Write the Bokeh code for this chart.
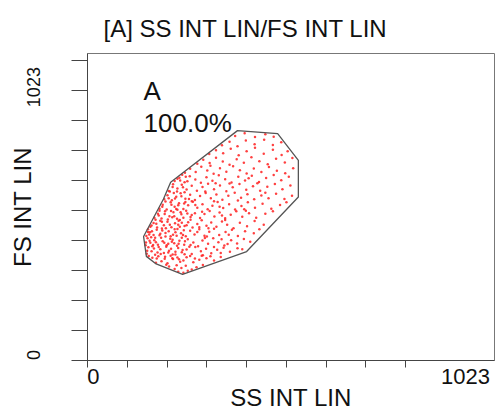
from bokeh.plotting import figure
from bokeh.models import Range1d, FixedTicker, Label, LinearAxis
from bokeh.embed import file_html
from bokeh.resources import INLINE

# ---------------- data ----------------
title_text = "[A] SS INT LIN/FS INT LIN"
x_axis_title = "SS INT LIN"
y_axis_title = "FS INT LIN"
axis_min = 0
axis_max = 1023
x_ticks = [0, 100, 200, 300, 400, 500, 600, 700, 800]
y_ticks = [0, 100, 200, 300, 400, 500, 600, 700, 800, 900, 1000]
x_tick_labels = ["0", "1023"]
x_tick_label_pos = [15, 950]
y_tick_labels = ["0", "1023"]
y_tick_label_pos = [18, 911]

gate_name = "A"
gate_percent = "100.0%"
gate_ss = [377, 478, 530, 530, 400, 239, 171, 148, 141, 191, 209]
gate_fs = [766, 756, 667, 545, 363, 287, 323, 347, 413, 538, 594]
gate_label_ss = 141
gate_name_fs = 898
gate_percent_fs = 792

ss_values = [
    228, 241, 252, 219, 236, 262, 205, 247, 274, 290, 198, 224,
    172, 186, 201, 215, 233, 249, 266, 281, 299, 318, 163, 178, 194, 209, 226, 241, 258, 287, 309, 154, 270, 335,
    149, 161, 170, 183, 192, 205, 214, 228, 237, 249, 262, 271, 285, 298, 311, 326, 342, 358, 377, 153, 167, 198, 221, 244, 256, 290, 318, 335, 389, 176, 210,
    146, 158, 168, 177, 189, 199, 208, 218, 231, 243, 252, 266, 278, 289, 303, 316, 329, 344, 361, 376, 393, 409, 151, 163, 185, 225, 259, 295, 337, 352, 212, 172, 237,
    148, 157, 166, 174, 183, 196, 204, 215, 226, 235, 247, 258, 269, 281, 294, 306, 318, 331, 347, 363, 378, 396, 418, 432, 152, 188, 221, 242, 276, 300, 355, 162, 209,
    158, 166, 175, 183, 192, 201, 211, 220, 232, 244, 253, 264, 276, 287, 299, 311, 324, 338, 351, 367, 383, 401, 420, 443, 171, 197, 228, 259, 304, 346, 237, 281,
    168, 177, 186, 195, 206, 216, 225, 236, 248, 259, 270, 283, 294, 307, 319, 332, 346, 360, 374, 389, 406, 424, 447, 466, 181, 213, 241, 288, 338, 398, 262,
    181, 189, 199, 209, 219, 230, 241, 253, 265, 276, 289, 302, 314, 327, 341, 356, 371, 387, 403, 421, 440, 462, 484, 500, 226, 271, 332, 394, 246,
    193, 201, 212, 223, 234, 246, 258, 270, 283, 297, 310, 324, 339, 354, 370, 386, 402, 419, 437, 455, 474, 495, 514, 217, 262, 318, 378, 447,
    204, 214, 225, 237, 249, 262, 275, 289, 303, 318, 333, 349, 365, 382, 399, 416, 434, 452, 471, 490, 510, 244, 296, 357, 427,
    219, 231, 244, 257, 271, 285, 299, 314, 330, 346, 362, 379, 396, 413, 431, 449, 468, 487, 506, 238, 322, 405,
    245, 258, 272, 286, 301, 317, 333, 349, 366, 383, 400, 418, 437, 456, 476, 497, 517, 309,
    276, 291, 307, 323, 340, 357, 375, 393, 412, 432, 453, 474, 496, 515,
    306, 323, 341, 360, 380, 400, 421, 443, 466, 488, 503,
    338, 357, 377, 398, 420, 444, 466, 487,
    371, 395, 421, 447, 468,
    150, 156, 160, 165, 170, 179, 181, 187, 193, 196, 203, 207, 214, 219, 224, 229, 232, 240, 245, 249,
    155, 161, 173, 179, 187, 194, 202, 210, 218, 223, 229, 234, 188, 196, 204, 211, 220, 228, 236, 243,
    251, 255, 207, 215, 226, 233, 240, 251, 226, 247, 174, 184, 195, 203, 213, 221, 230, 239, 147, 152,
]
fs_values = [
    296, 292, 299, 305, 308, 303, 313, 316, 311, 318, 319, 317,
    326, 331, 324, 338, 329, 344, 327, 336, 341, 333, 342, 347, 339, 349, 343, 333, 348, 349, 347, 348, 340, 345,
    356, 364, 352, 371, 358, 366, 353, 375, 361, 370, 355, 378, 364, 372, 357, 369, 376, 362, 374, 377, 373, 379, 362, 354, 379, 351, 378, 358, 371, 360, 372,
    384, 392, 401, 386, 397, 384, 406, 391, 399, 386, 404, 393, 381, 400, 389, 407, 394, 383, 401, 390, 405, 396, 407, 381, 409, 382, 385, 408, 404, 388, 396, 394, 409,
    415, 427, 418, 436, 422, 413, 431, 419, 438, 424, 414, 432, 420, 437, 416, 429, 439, 418, 428, 436, 415, 431, 424, 437, 437, 433, 427, 434, 428, 413, 419, 431, 414,
    446, 458, 443, 466, 451, 462, 444, 457, 468, 448, 461, 443, 455, 467, 449, 460, 446, 463, 452, 441, 459, 447, 465, 452, 469, 441, 452, 469, 441, 468, 459, 444,
    476, 489, 473, 497, 481, 494, 472, 487, 499, 478, 491, 475, 488, 498, 480, 493, 474, 486, 497, 479, 491, 476, 489, 497, 499, 477, 476, 496, 483, 499, 485,
    506, 519, 503, 527, 512, 524, 505, 517, 529, 509, 521, 504, 516, 528, 508, 521, 503, 515, 527, 509, 522, 506, 518, 527, 502, 518, 512, 504, 528,
    537, 551, 534, 546, 557, 539, 552, 535, 548, 558, 541, 553, 536, 549, 559, 542, 554, 537, 550, 541, 556, 538, 549, 558, 531, 531, 533, 559,
    565, 578, 563, 586, 570, 582, 566, 578, 589, 571, 583, 564, 577, 588, 569, 581, 566, 579, 588, 571, 583, 561, 563, 590, 591,
    598, 609, 594, 614, 603, 592, 611, 599, 617, 604, 593, 612, 600, 616, 595, 608, 618, 601, 612, 619, 591, 607,
    626, 639, 628, 646, 633, 622, 641, 629, 647, 634, 623, 640, 628, 645, 632, 624, 641, 649,
    656, 669, 658, 676, 663, 652, 671, 659, 677, 664, 654, 672, 660, 675,
    688, 701, 691, 706, 684, 697, 709, 689, 702, 685, 697,
    717, 729, 714, 733, 721, 736, 718, 727,
    748, 757, 745, 754, 746,
    366, 399, 411, 385, 409, 378, 417, 440, 392, 425, 389, 452, 402, 437, 416, 389, 446, 418, 397, 451,
    420, 450, 456, 483, 462, 488, 470, 498, 481, 505, 466, 494, 512, 530, 541, 519, 540, 517, 547, 523,
    490, 538, 563, 587, 573, 600, 577, 597, 606, 612, 340, 355, 346, 360, 341, 353, 337, 368, 393, 428,
]

# ---------------- figure ----------------
FONT = "Liberation Sans"
INK = "#111111"
AXIS_GREY = "#444444"

p = figure(
    width=495, height=413,
    x_range=Range1d(axis_min, axis_max), y_range=Range1d(axis_min, axis_max),
    output_backend="svg", toolbar_location=None,
    min_border_left=87, min_border_right=1, min_border_top=53, min_border_bottom=50,
    background_fill_color="white", border_fill_color="white",
)
p.xgrid.visible = False
p.ygrid.visible = False
p.outline_line_color = "#777777"
p.outline_line_width = 1

p.title.text = title_text
p.title.text_font = FONT
p.title.text_font_size = "24px"
p.title.text_font_style = "normal"
p.title.text_color = INK
p.title.align = "left"
p.title.vertical_align = "top"
p.title.offset = 16
p.title.standoff = 19


def tick_axis(ax, ticks, tick_len):
    ax.ticker = FixedTicker(ticks=ticks, minor_ticks=[])
    ax.major_tick_out = tick_len
    ax.major_tick_in = 0
    ax.minor_tick_out = 0
    ax.minor_tick_in = 0
    ax.major_label_text_color = None
    ax.major_label_text_font_size = "0px"
    ax.major_label_standoff = 0
    ax.axis_line_color = AXIS_GREY
    ax.major_tick_line_color = AXIS_GREY


def label_axis(ax, pos, labels, size, standoff, title, title_standoff):
    ax.ticker = FixedTicker(ticks=pos, minor_ticks=[])
    ax.major_label_overrides = {v: t for v, t in zip(pos, labels)}
    ax.major_tick_out = 0
    ax.major_tick_in = 0
    ax.minor_tick_out = 0
    ax.minor_tick_in = 0
    ax.axis_line_color = None
    ax.major_tick_line_color = None
    ax.minor_tick_line_color = None
    ax.major_label_text_font = FONT
    ax.major_label_text_font_size = size
    ax.major_label_text_color = INK
    ax.major_label_standoff = standoff
    ax.axis_label = title
    ax.axis_label_text_font = FONT
    ax.axis_label_text_font_size = "24px"
    ax.axis_label_text_font_style = "normal"
    ax.axis_label_text_color = INK
    ax.axis_label_standoff = title_standoff


# tick marks (inner axes)
tick_axis(p.xaxis[0], x_ticks, 7)
tick_axis(p.yaxis[0], y_ticks, 16)

# labels (outer axes)
xlab = LinearAxis()
label_axis(xlab, x_tick_label_pos, x_tick_labels, "22px", 1, x_axis_title, -3)
p.add_layout(xlab, "below")

ylab = LinearAxis()
label_axis(ylab, y_tick_label_pos, y_tick_labels, "18px", 31, y_axis_title, -11)
ylab.major_label_orientation = "vertical"
p.add_layout(ylab, "left")

# events
p.scatter(ss_values, fs_values, marker="circle", size=2.5,
          fill_color="#ff2020", line_color=None, fill_alpha=0.85)

# gate
p.patch(gate_ss, gate_fs, fill_alpha=0, line_color="#555555", line_width=1.3)

# gate labels
p.add_layout(Label(x=gate_label_ss, y=gate_name_fs, text=gate_name, text_font=FONT,
                   text_font_size="26px", text_color=INK,
                   text_align="left", text_baseline="alphabetic"))
p.add_layout(Label(x=gate_label_ss, y=gate_percent_fs, text=gate_percent, text_font=FONT,
                   text_font_size="26px", text_color=INK,
                   text_align="left", text_baseline="alphabetic"))

open("out.html", "w").write(file_html(p, INLINE))
